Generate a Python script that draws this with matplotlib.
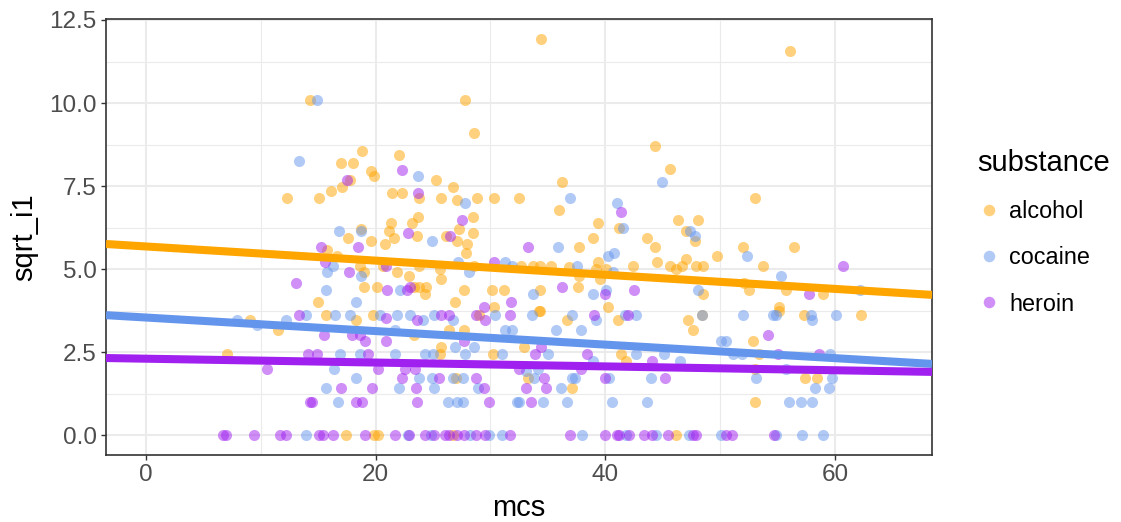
"""Scatter of sqrt_i1 against mcs by substance, with linear fits per group."""
import matplotlib
matplotlib.use("Agg")
import matplotlib.pyplot as plt
from matplotlib.lines import Line2D
import numpy as np

plt.rcParams["font.family"] = ["Liberation Sans", "DejaVu Sans"]

# values
alc_mcs = [14.3, 34.4, 56.1, 27.8, 28.6, 18.8, 22.0, 44.3, 45.6, 17.0, 18.0, 19.6, 19.9, 17.8, 17.1,
           16.1, 15.1, 25.3, 26.7, 21.4, 22.3, 23.8, 25.7, 27.1, 28.8, 30.3, 32.5, 28.5, 21.3, 23.7,
           23.2, 18.7, 21.2, 23.6, 27.3, 28.5, 26.1, 17.6, 19.6, 20.8, 21.6, 27.1, 28.0, 27.9, 15.8,
           16.6, 18.6, 19.0, 20.6, 21.9, 22.9, 23.8, 25.6, 25.7, 28.6, 19.0, 20.1, 23.3, 23.8, 24.4,
           24.3, 27.7, 26.9, 30.1, 31.2, 15.0, 30.3,
           36.2, 36.0, 39.4, 41.2, 46.3, 48.1, 47.0, 47.8, 38.9, 37.7, 43.6, 44.3, 39.4, 44.5, 47.0,
           49.7, 32.7, 33.7, 34.3, 35.3, 36.8, 37.7, 39.2, 40.1, 42.4, 45.6, 46.2, 46.7, 47.9, 48.5,
           39.5, 34.3, 37.6, 48.5, 40.2, 34.2,
           53.0, 52.0, 56.4, 53.7, 52.1, 52.5, 55.7, 59.0, 55.1,
           12.3, 9.1, 11.5, 7.1,
           15.7, 18.3, 19.8, 29.0, 23.3, 26.4, 27.7, 25.7, 25.6, 30.2, 27.0,
           17.4, 19.9, 20.2, 26.7,
           34.3, 36.7, 41.1, 47.2, 47.6, 48.4, 32.9, 41.4, 41.8, 33.3, 37.1, 46.2,
           55.1, 57.3, 62.3, 52.9, 53.4, 53.0, 57.4, 58.4, 53.0]
alc_y = [10.1, 11.92, 11.58, 10.1, 9.11, 8.54, 8.43, 8.72, 8.0, 8.19, 8.19, 7.95, 7.81, 7.68, 7.48,
         7.35, 7.14, 7.68, 7.48, 7.28, 7.28, 7.14, 7.14, 7.07, 7.14, 7.14, 7.14, 6.56, 6.4, 6.56,
         6.4, 6.2, 6.16, 6.0, 6.2, 6.08, 6.0, 5.92, 5.83, 5.74, 5.92, 5.83, 5.74, 5.48, 5.57,
         5.39, 5.1, 4.9, 5.1, 4.9, 4.8, 5.1, 5.0, 4.69, 5.1, 4.47, 4.47, 4.47, 4.47, 4.47,
         4.24, 4.36, 4.0, 4.36, 4.36, 4.0, 3.87,
         7.62, 6.78, 6.4, 6.24, 6.48, 6.48, 6.16, 5.83, 5.92, 5.66, 5.92, 5.66, 5.2, 5.2, 5.29,
         5.39, 5.1, 5.1, 5.1, 5.1, 5.05, 4.8, 5.0, 5.0, 5.1, 5.1, 5.0, 5.1, 5.1, 5.1,
         4.69, 4.36, 4.47, 4.24, 3.87, 3.74,
         7.14, 5.66, 5.66, 5.1, 4.58, 4.36, 4.36, 4.24, 3.87,
         7.14, 3.46, 3.16, 2.45,
         3.61, 3.46, 3.61, 3.61, 3.0, 3.16, 3.16, 2.65, 2.45, 2.45, 1.73,
         0, 0, 0, 0,
         3.74, 3.46, 3.46, 3.46, 3.16, 3.61, 2.65, 2.45, 2.24, 1.73, 1.41, 0,
         3.74, 3.61, 3.61, 2.83, 2.45, 2.0, 1.73, 1.73, 1.0]

coc_mcs = [14.9, 13.3, 23.7, 27.8, 16.8, 18.7, 24.9, 16.3, 15.8, 18.7, 27.2, 28.1, 31.3, 31.9, 15.7,
           22.1, 18.3,
           44.9, 36.9, 41.0, 41.5, 47.4, 47.8, 35.9, 40.2, 40.8, 37.5, 40.7, 33.7, 38.9, 40.1, 48.1,
           52.3, 55.3, 62.2,
           7.9, 9.7, 12.2, 13.9, 13.9,
           16.5, 17.8, 20.4, 21.9, 23.0, 24.1, 25.1, 26.7, 30.4, 21.7, 26.9, 28.6, 31.3, 31.9, 16.9,
           18.6, 21.7, 24.3, 25.0, 27.8, 31.0, 16.4, 18.3, 23.8, 24.9, 26.7, 27.6, 15.7, 22.0, 25.1,
           28.9, 16.7, 26.3, 27.1, 27.6, 32.3,
           22.8, 24.8, 28.2, 29.9, 31.0,
           33.6, 37.1, 39.2, 41.7, 42.7, 48.4, 35.7, 37.9, 35.0, 38.9, 42.7, 45.1, 46.5, 33.1, 34.1,
           33.8, 37.1, 37.4, 40.3, 44.0, 36.1, 32.5, 34.6, 36.7, 40.6, 43.6, 50.1,
           38.0, 41.8, 44.4, 47.3, 50.1,
           52.0, 54.6, 54.9, 57.9, 58.0, 60.1, 50.5, 51.1, 51.9, 59.6, 53.1, 55.7, 59.7, 58.3, 59.5,
           56.0, 57.0, 58.0,
           54.9, 57.1, 59.0]
coc_y = [10.1, 8.25, 7.81, 7.0, 6.16, 6.16, 5.83, 5.1, 4.9, 4.8, 5.2, 4.9, 5.2, 5.1, 4.36,
         4.36, 4.0,
         7.62, 7.14, 7.0, 6.24, 6.16, 6.0, 5.66, 5.39, 5.48, 5.1, 4.9, 4.24, 4.24, 4.36, 4.36,
         5.39, 4.8, 4.36,
         3.46, 3.32, 3.46, 3.61, 0,
         3.61, 3.61, 3.61, 3.61, 3.61, 3.46, 3.61, 3.46, 3.61, 3.16, 2.65, 2.65, 3.16, 3.16, 2.45,
         2.45, 2.45, 2.45, 2.45, 2.45, 2.45, 2.0, 1.73, 1.73, 1.73, 1.73, 1.73, 1.41, 1.41, 1.41,
         1.41, 1.0, 1.0, 1.0, 1.0, 1.0,
         0, 0, 0, 0, 0,
         3.61, 3.61, 3.46, 3.61, 3.61, 3.61, 3.16, 3.16, 2.45, 2.24, 2.45, 2.45, 2.24, 1.93, 2.0,
         1.73, 1.73, 1.73, 1.73, 1.73, 1.41, 1.0, 1.0, 1.0, 1.0, 1.0, 2.83,
         0, 0, 0, 0, 0,
         3.61, 3.61, 3.61, 3.61, 3.46, 3.61, 2.83, 2.45, 2.45, 2.45, 1.73, 2.0, 1.73, 1.41, 1.41,
         1.0, 1.0, 1.0,
         0, 0, 0]

her_mcs = [22.3, 17.5, 23.7, 27.5, 22.8, 26.5, 15.2, 18.5, 15.6, 17.7, 20.9, 30.3, 21.0, 22.7, 23.0,
           29.4, 31.8,
           41.4, 33.3, 36.2, 40.0, 42.5,
           60.7, 57.7,
           13.1, 13.3, 10.5, 14.1, 14.3,
           6.7, 7.0, 9.4, 11.7, 12.2,
           20.9, 23.6, 25.7, 26.4, 28.7, 29.5, 31.7, 15.5, 17.9, 18.6, 19.1, 20.9, 27.7, 14.9, 19.3,
           20.2, 22.6, 23.4, 22.3, 25.5, 28.7, 17.0, 19.7, 23.5, 29.4, 14.5, 18.3, 18.8, 23.6, 29.9,
           15.1, 15.4, 16.3, 19.1, 21.7, 22.9, 24.3, 25.1, 26.0, 26.4, 27.1, 27.7, 28.7, 29.5, 31.7,
           39.0, 42.0, 33.9, 34.4, 38.4, 44.1, 32.5, 34.7, 37.9, 40.0, 45.2, 33.1, 34.8, 33.5,
           36.9, 40.0, 41.0, 41.2, 42.1, 43.4, 44.1, 45.5, 47.6, 47.9, 50.5,
           54.2, 55.0, 58.6,
           51.0, 54.7]
her_y = [7.97, 7.68, 7.28, 6.48, 6.08, 6.0, 5.66, 5.66, 5.2, 4.9, 5.1, 5.2, 4.36, 4.36, 4.47,
         3.87, 4.0,
         6.71, 5.66, 4.47, 4.24, 4.36,
         5.1, 4.24,
         4.58, 3.61, 2.0, 2.45, 1.0,
         0, 0, 0, 0, 0,
         3.52, 3.46, 3.61, 3.61, 3.61, 3.46, 3.61, 3.0, 3.0, 3.0, 2.83, 2.83, 2.83, 2.45, 2.45,
         2.0, 2.0, 2.0, 1.73, 1.73, 1.73, 1.41, 1.41, 1.41, 1.41, 1.0, 1.0, 1.0, 1.0, 1.0,
         0, 0, 0, 0, 0, 0, 0, 0, 0, 0, 0, 0, 0, 0, 0,
         3.61, 3.61, 2.45, 2.65, 2.45, 2.24, 2.0, 1.73, 2.0, 1.73, 1.73, 1.41, 1.41, 1.0,
         0, 0, 0, 0, 0, 0, 0, 0, 0, 0, 0,
         3.0, 2.45, 2.45,
         0, 0]

# linear fits (intercept, slope)
fits = {
    "alcohol": (5.68, -0.0213),
    "cocaine": (3.54, -0.0204),
    "heroin": (2.30, -0.0058),
}

groups = ["alcohol", "cocaine", "heroin"]
colors = {"alcohol": "#FFA500", "cocaine": "#6495ED", "heroin": "#A020F0"}
series = {
    "alcohol": (alc_mcs, alc_y),
    "cocaine": (coc_mcs, coc_y),
    "heroin": (her_mcs, her_y),
}

W, H = 1121, 522
fig = plt.figure(figsize=(W / 100, H / 100), dpi=100)
ax = fig.add_axes([106 / W, 1 - 455 / H, (932 - 106) / W, (455 - 19) / H])

xlim = (-3.48, 68.45)
ylim = (-0.6, 12.53)

for g in groups:
    xs, ys = series[g]
    ax.scatter(xs, ys, s=64, color=colors[g], alpha=0.5, linewidths=0, zorder=3)

xx = np.array(xlim)
for g in groups:
    b0, b1 = fits[g]
    ax.plot(xx, b0 + b1 * xx, color=colors[g], lw=5.8, solid_capstyle="butt", zorder=4)

ax.set_xlim(*xlim)
ax.set_ylim(*ylim)
ax.set_xticks([0, 20, 40, 60])
ax.set_xticks([10, 30, 50], minor=True)
ax.set_yticks([0, 2.5, 5, 7.5, 10, 12.5])
ax.set_yticklabels(["0.0", "2.5", "5.0", "7.5", "10.0", "12.5"])
ax.set_yticks([1.25, 3.75, 6.25, 8.75, 11.25], minor=True)
ax.grid(which="major", color="#EBEBEB", lw=1.5, zorder=0)
ax.grid(which="minor", color="#EBEBEB", lw=0.8, zorder=0)
ax.set_axisbelow(True)
ax.tick_params(which="major", length=3.6, width=1.0, color="#333333",
               labelsize=17.5, labelcolor="#4D4D4D", pad=3)
ax.tick_params(which="minor", length=0)
for sp in ax.spines.values():
    sp.set_color("#333333")
    sp.set_linewidth(1.2)

ax.set_xlabel("mcs", fontsize=21, labelpad=6)
ax.set_ylabel("sqrt_i1", fontsize=21, labelpad=8)

handles = [Line2D([0], [0], marker="o", linestyle="None", markersize=8.3,
                  markerfacecolor=colors[g], markeredgewidth=0, alpha=0.5, label=g)
           for g in groups]
fig.legend(handles=handles, title="substance", loc="upper left",
           bbox_to_anchor=(966 / W, 1 - 137 / H), frameon=False,
           fontsize=16.8, title_fontsize=21, alignment="left",
           handlelength=1.0, handletextpad=0.35, labelspacing=1.0, borderpad=0)

fig.savefig("out.png", dpi=100)
